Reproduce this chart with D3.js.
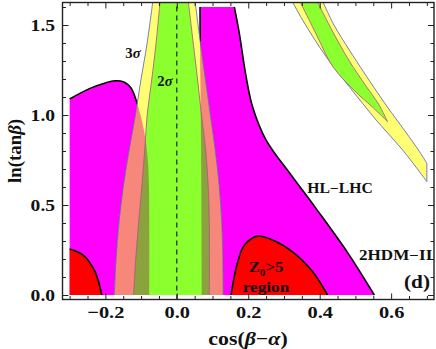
<!DOCTYPE html>
<html><head><meta charset="utf-8">
<script src="https://cdn.jsdelivr.net/npm/d3@7"></script>
<style>body{margin:0;background:#fff}svg{display:block}</style>
</head><body>
<svg id="c" width="436" height="349"></svg>
<script>
// ---------- data (cos(beta-alpha), ln(tan beta)) ----------
const xMajorTicks = [-0.2, 0.0, 0.2, 0.4, 0.6];
const xMinorTicks = [-0.3,-0.25,-0.15,-0.1,-0.05,0.05,0.1,0.15,0.25,0.3,0.35,0.45,0.5,0.55,0.65,0.7];
const yMajorTicks = [0.0, 0.5, 1.0, 1.5];
const yMinorTicks = [0.1,0.2,0.3,0.4,0.6,0.7,0.8,0.9,1.1,1.2,1.3,1.4,1.6];

// HL-LHC region (magenta), left part: upper boundary from left edge down to bottom
const magentaLeftBoundary = [[-0.3,1.089],[-0.243,1.148],[-0.2,1.178],[-0.173,1.19],[-0.15,1.185],[-0.136,1.167],[-0.125,1.14],[-0.117,1.10],[-0.108,1.046],[-0.098,0.97],[-0.088,0.87],[-0.081,0.75],[-0.078,0.6],[-0.077,0.3],[-0.077,0.0]];
// right part: left edge (top->bottom) and right edge (top->bottom)
const magentaRightLeftEdge = [[0.065,1.6],[0.066,1.2],[0.068,0.8],[0.069,0.4],[0.070,0.0]];
const magentaRightRightEdge = [[0.161,1.6],[0.175,1.454],[0.194,1.213],[0.212,1.046],[0.25,0.861],[0.32,0.667],[0.39,0.48],[0.48,0.23],[0.553,0.0]];
// Z0>5 regions (red)
const redLeftBoundary = [[-0.3,0.256],[-0.262,0.222],[-0.229,0.13],[-0.21,0.0]];
const redRightBoundary = [[0.152,0.0],[0.166,0.15],[0.184,0.26],[0.198,0.296],[0.226,0.327],[0.268,0.306],[0.324,0.24],[0.38,0.13],[0.422,0.0]];
// central signal-strength bands (top -> bottom)
const band3Left  = [[-0.066,1.65],[-0.083,1.4],[-0.100,1.2],[-0.116,1.0],[-0.134,0.8],[-0.150,0.6],[-0.162,0.4],[-0.170,0.2],[-0.175,0.0]];
const band3Right = [[0.050,1.65],[0.066,1.4],[0.080,1.2],[0.094,1.0],[0.108,0.8],[0.119,0.6],[0.126,0.4],[0.129,0.2],[0.130,0.0]];
const band2Left  = [[-0.046,1.65],[-0.058,1.4],[-0.070,1.2],[-0.083,1.0],[-0.090,0.8],[-0.098,0.6],[-0.107,0.4],[-0.115,0.2],[-0.121,0.0]];
const band2Right = [[0.031,1.65],[0.046,1.4],[0.058,1.2],[0.069,1.0],[0.081,0.8],[0.088,0.6],[0.091,0.4],[0.091,0.0]];
// diagonal (wrong-sign) bands, top-right
const diag3Lower = [[0.318,1.65],[0.352,1.528],[0.418,1.324],[0.483,1.157],[0.558,0.972],[0.632,0.806],[0.700,0.63]];
const diag3Upper = [[0.404,1.65],[0.44,1.5],[0.483,1.361],[0.576,1.083],[0.67,0.824],[0.700,0.732]];
const diag2Lower = [[0.340,1.65],[0.39,1.45],[0.437,1.268],[0.50,1.13],[0.55,1.04],[0.59,0.963]];
const diag2Upper = [[0.388,1.65],[0.44,1.45],[0.483,1.30],[0.53,1.16],[0.565,1.06],[0.59,0.963]];

// ---------- scales ----------
const x = d3.scaleLinear().domain([-0.32, 0.72]).range([62.5, 434]);
const y = d3.scaleLinear().domain([-0.025, 1.625]).range([299.5, 2.5]);

const svg = d3.select('#c');
const C = {magenta:'#FF00FF', red:'#FF0000', yellow:'#FFFF74', green:'#8CFF2E', salmon:'#F7877B', olive:'#8CA23F'};

const lineC = d3.line().x(d=>x(d[0])).y(d=>y(d[1])).curve(d3.curveCatmullRom.alpha(0.5));
function seg(pts){ return lineC(pts); }
function poly(...parts){ return parts.map((s,i)=> i ? s.replace(/^M/,'L') : s).join('') + 'Z'; }
const rev = a => a.slice().reverse();
const pt = (a,b) => `M${x(a)},${y(b)}`;

const defs = svg.append('defs');
defs.append('clipPath').attr('id','plot').append('rect')
  .attr('x', x(-0.32)).attr('y', y(1.625)).attr('width', x(0.72)-x(-0.32)).attr('height', y(-0.025)-y(1.625));

const magL = poly(seg(magentaLeftBoundary), pt(-0.3,0));
const magR = poly(seg(magentaRightLeftEdge), seg(rev(magentaRightRightEdge)));
const mcp = defs.append('clipPath').attr('id','mag');
mcp.append('path').attr('d', magL);
mcp.append('path').attr('d', magR);

const g = svg.append('g').attr('clip-path','url(#plot)');

// magenta regions
g.append('path').attr('d', magL).attr('fill', C.magenta);
g.append('path').attr('d', magR).attr('fill', C.magenta);
[seg(magentaLeftBoundary), seg(magentaRightLeftEdge), seg(magentaRightRightEdge)].forEach(d =>
  g.append('path').attr('d', d).attr('fill','none').attr('stroke','#000').attr('stroke-width',1.6));

// red regions
const redL = poly(seg(redLeftBoundary), pt(-0.3,0));
const redR = poly(seg(redRightBoundary));
g.append('path').attr('d', redL).attr('fill', C.red);
g.append('path').attr('d', redR).attr('fill', C.red);
[seg(redLeftBoundary), seg(redRightBoundary)].forEach(d =>
  g.append('path').attr('d', d).attr('fill','none').attr('stroke','#000').attr('stroke-width',1.6));

// central bands
const b3 = poly(seg(band3Left), seg(rev(band3Right)));
const b2 = poly(seg(band2Left), seg(rev(band2Right)));
g.append('path').attr('d', b3).attr('fill', C.yellow);
g.append('g').attr('clip-path','url(#mag)').append('path').attr('d', b3).attr('fill', C.salmon);
g.append('path').attr('d', b2).attr('fill', C.green);
g.append('g').attr('clip-path','url(#mag)').append('path').attr('d', b2).attr('fill', C.olive);
[band3Left, band3Right].forEach(a => g.append('path').attr('d', seg(a)).attr('fill','none').attr('stroke','#5a5ab4').attr('stroke-width',0.8));
[band2Left, band2Right].forEach(a => g.append('path').attr('d', seg(a)).attr('fill','none').attr('stroke','#a8508a').attr('stroke-width',0.8));

// diagonal bands
const d3p = poly(seg(diag3Lower), seg(rev(diag3Upper)));
const d2p = poly(seg(diag2Lower), seg(rev(diag2Upper)));
g.append('path').attr('d', d3p).attr('fill', C.yellow).attr('stroke','#5a5ab4').attr('stroke-width',0.8);
g.append('path').attr('d', d2p).attr('fill', C.green).attr('stroke','#a8508a').attr('stroke-width',0.8);

// dashed line at cos=0
g.append('line').attr('x1', x(0)).attr('x2', x(0)).attr('y1', y(-0.025)).attr('y2', y(1.625))
  .attr('stroke','#111').attr('stroke-width',1.1).attr('stroke-dasharray','5,4');

// ---------- frame & ticks ----------
const X0 = y(-0.025), X1 = y(1.625), L = x(-0.32), R = x(0.72);
function styleAxis(sel){ sel.select('.domain').remove(); sel.selectAll('line').attr('stroke','#222').attr('stroke-width',1); }
const fnt = "'Liberation Serif','Times New Roman',serif";

svg.append('g').attr('transform',`translate(0,${X0})`)
  .call(d3.axisBottom(x).tickValues(xMajorTicks).tickSize(-6).tickPadding(6)
  .tickFormat(d => (d<0?'\u2212':'') + Math.abs(d).toFixed(1)))
  .call(styleAxis)
  .call(s => s.selectAll('text').attr('font-family',fnt).attr('font-weight','bold').attr('font-size',17).attr('fill','#111')
    .attr('transform','scale(1.2,1)'));
svg.append('g').attr('transform',`translate(0,${X0})`).call(d3.axisBottom(x).tickValues(xMinorTicks).tickSize(-3.5).tickFormat('')).call(styleAxis);
svg.append('g').attr('transform',`translate(0,${X1})`).call(d3.axisTop(x).tickValues(xMajorTicks).tickSize(-6).tickFormat('')).call(styleAxis);
svg.append('g').attr('transform',`translate(0,${X1})`).call(d3.axisTop(x).tickValues(xMinorTicks).tickSize(-3.5).tickFormat('')).call(styleAxis);

svg.append('g').attr('transform',`translate(${L},0)`)
  .call(d3.axisLeft(y).tickValues(yMajorTicks).tickSize(-6).tickPadding(6.5)
  .tickFormat(d => d.toFixed(1)))
  .call(styleAxis)
  .call(s => s.selectAll('text').attr('font-family',fnt).attr('font-weight','bold').attr('font-size',17).attr('fill','#111')
    .attr('transform','scale(1.15,1)'));
svg.append('g').attr('transform',`translate(${L},0)`).call(d3.axisLeft(y).tickValues(yMinorTicks).tickSize(-3.5).tickFormat('')).call(styleAxis);
svg.append('g').attr('transform',`translate(${R},0)`).call(d3.axisRight(y).tickValues(yMajorTicks).tickSize(-6).tickFormat('')).call(styleAxis);
svg.append('g').attr('transform',`translate(${R},0)`).call(d3.axisRight(y).tickValues(yMinorTicks).tickSize(-3.5).tickFormat('')).call(styleAxis);

svg.append('rect').attr('x',L).attr('y',X1).attr('width',R-L).attr('height',X0-X1)
  .attr('fill','none').attr('stroke','#222').attr('stroke-width',1.4);

// ---------- texts ----------
function txt(xp, yp, parts, size, anchor='middle', sx=1.15, rot=0){
  const t = svg.append('text').attr('x',0).attr('y',0).attr('text-anchor',anchor)
    .attr('transform', `translate(${xp},${yp}) rotate(${rot}) scale(${sx},1)`)
    .attr('font-family',fnt).attr('font-weight','bold').attr('font-size',size).attr('fill','#111');
  parts.forEach(p => {
    const ts = t.append('tspan').text(p.t);
    if (p.i) ts.attr('font-style','italic');
    if (p.dy) ts.attr('dy', p.dy);
    if (p.fs) ts.attr('font-size', p.fs);
  });
  return t;
}
txt(248, 345, [{t:'cos('},{t:'\u03b2',i:1},{t:'\u2212'},{t:'\u03b1',i:1},{t:')'}], 19, 'middle', 1.15);
txt(21, 151, [{t:'ln(tan'},{t:'\u03b2',i:1},{t:')'}], 18, 'middle', 1.05, -90);
txt(133, 58, [{t:'3'},{t:'\u03c3',i:1}], 14, 'middle', 1.05);
txt(165, 86, [{t:'2'},{t:'\u03c3',i:1}], 14, 'middle', 1.05);
txt(340, 193, [{t:'HL\u2212LHC'}], 14, 'middle', 1.12);
txt(359, 260, [{t:'2HDM\u2212II'}], 14, 'start', 1.22);
txt(417, 288, [{t:'(d)'}], 19, 'middle', 1.12);
txt(266, 272, [{t:'Z'},{t:'0',dy:4,fs:10},{t:'>5',dy:-4}], 15, 'middle', 1.12);
txt(266, 292, [{t:'region'}], 15, 'middle', 1.15);
</script>
</body></html>
